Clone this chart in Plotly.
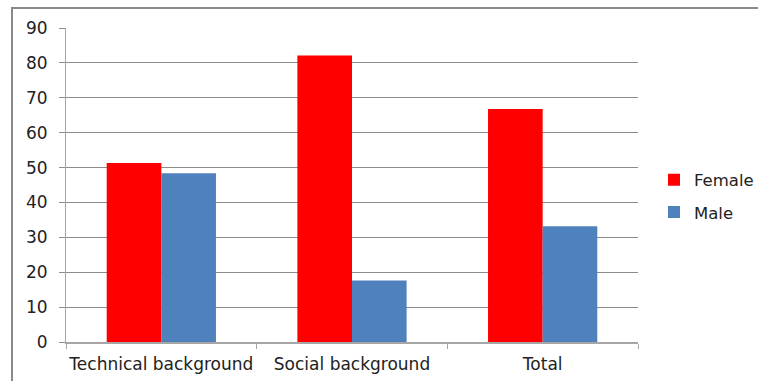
import plotly.graph_objects as go

categories = ["Technical background", "Social background", "Total"]
female = [51.3, 82.1, 66.8]
male = [48.4, 17.6, 33.2]
y_ticks = [0, 10, 20, 30, 40, 50, 60, 70, 80, 90]

W, H = 758, 381
L, R, T, B = 66, 120, 27.5, 39.3
pw = W - L - R
ph = H - T - B

def px_x(p):
    return (p - L) / pw

def px_y(p):
    return (H - B - p) / ph

fig = go.Figure()
fig.add_trace(go.Bar(name="Female", x=categories, y=female, legendgroup="f",
                     marker=dict(color="#FF0000", line=dict(width=0))))
fig.add_trace(go.Bar(name="Male", x=categories, y=male, legendgroup="m",
                     marker=dict(color="#4F81BD", line=dict(width=0))))

font = dict(family="DejaVu Sans", size=17, color="#222222")
legfont = dict(family="DejaVu Sans", size=16.5, color="#222222")

fig.update_layout(
    width=W, height=H, autosize=False,
    margin=dict(l=L, r=R, t=T, b=B, pad=0, autoexpand=False),
    paper_bgcolor="white", plot_bgcolor="white",
    barmode="group", bargap=0.427, bargroupgap=0,
    font=font,
    showlegend=True,
    legend=dict(x=px_x(654), y=px_y(162), xanchor="left", yanchor="top",
                font=legfont, itemwidth=30, tracegroupgap=8, bgcolor="rgba(0,0,0,0)"),
    xaxis=dict(showgrid=False, showline=True, linecolor="#A6A6A6", linewidth=2,
               ticks="outside", ticklen=5, tickcolor="#A6A6A6", ticklabelstandoff=6,
               tickangle=0, tickson="boundaries", tickfont=font, fixedrange=True),
    yaxis=dict(range=[0, 90], tickvals=y_ticks, showgrid=True, gridcolor="#8C8C8C", gridwidth=1,
               showline=True, linecolor="#A6A6A6", linewidth=1,
               ticks="outside", ticklen=6, tickcolor="#8C8C8C", ticklabelstandoff=8,
               zeroline=False, tickfont=font, fixedrange=True),
    shapes=[dict(type="rect", xref="paper", yref="paper",
                 x0=px_x(12), x1=px_x(765), y0=px_y(390), y1=px_y(7.5),
                 line=dict(color="#8A8A8A", width=2), fillcolor="rgba(0,0,0,0)", layer="below")],
)

fig.write_html("out.html")
